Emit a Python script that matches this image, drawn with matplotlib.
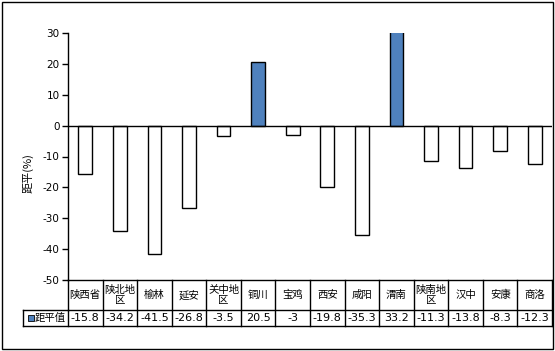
import matplotlib.pyplot as plt
import matplotlib.transforms as mtransforms
from matplotlib.patches import Rectangle

plt.rcParams['font.family'] = ['Noto Sans CJK SC', 'DejaVu Sans']

categories = ['陕西省', '陕北地\n区', '榆林', '延安', '关中地\n区', '铜川', '宝鸡',
              '西安', '咸阳', '渭南', '陕南地\n区', '汉中', '安康', '商洛']
values = [-15.8, -34.2, -41.5, -26.8, -3.5, 20.5, -3, -19.8, -35.3, 33.2,
          -11.3, -13.8, -8.3, -12.3]
value_labels = ['-15.8', '-34.2', '-41.5', '-26.8', '-3.5', '20.5', '-3',
                '-19.8', '-35.3', '33.2', '-11.3', '-13.8', '-8.3', '-12.3']
series_name = '距平值'
yticks = [-50, -40, -30, -20, -10, 0, 10, 20, 30]

W, H = 555, 351
fig = plt.figure(figsize=(W / 100, H / 100), dpi=100)
ax = fig.add_axes([68 / W, (H - 280) / H, 484 / W, 247 / H])

blue = '#4F81BD'
x = list(range(len(categories)))
colors = [blue if v > 0 else 'white' for v in values]
ax.bar(x, values, width=0.4, color=colors, edgecolor='black', linewidth=1.0)

ax.set_xlim(-0.5, len(categories) - 0.5)
ax.set_ylim(-50, 30)
ax.set_yticks(yticks)
ax.set_yticklabels([str(t) for t in yticks], fontsize=7.5, family='DejaVu Sans')
ax.tick_params(axis='y', direction='out', length=4, width=1, pad=2)
ax.set_xticks([])
for s in ['top', 'right', 'bottom']:
    ax.spines[s].set_visible(False)
ax.spines['left'].set_linewidth(1.0)
ax.axhline(0, color='black', linewidth=1.0)
ax.set_ylabel('距平(%)', fontsize=8)
ax.yaxis.set_label_coords(-34 / 484, 107 / 247)

# data table under the axes
tr = mtransforms.blended_transform_factory(ax.transData, ax.transAxes)
r1 = -30 / 247
r2 = -46 / 247
lw = 1.0
n = len(categories)
for i in range(n + 1):
    ax.plot([i - 0.5, i - 0.5], [0, r2], color='black', lw=lw, transform=tr, clip_on=False)
ax.plot([-0.5, n - 0.5], [0, 0], color='black', lw=lw, transform=tr, clip_on=False)
ax.plot([-0.5, n - 0.5], [r1, r1], color='black', lw=lw, transform=tr, clip_on=False)
lx = -45 / 484
ax.plot([lx, 0], [r1, r1], color='black', lw=lw, transform=ax.transAxes, clip_on=False)
ax.plot([lx, 1], [r2, r2], color='black', lw=lw, transform=ax.transAxes, clip_on=False)
ax.plot([lx, lx], [r1, r2], color='black', lw=lw, transform=ax.transAxes, clip_on=False)

for i, (c, v) in enumerate(zip(categories, value_labels)):
    ax.text(i, r1 / 2, c, ha='center', va='center', fontsize=7.5,
            linespacing=1.1, transform=tr)
    ax.text(i, (r1 + r2) / 2, v, ha='center', va='center', fontsize=8,
            transform=tr, family='DejaVu Sans')

# legend key in the table
ax.add_patch(Rectangle((lx + 5 / 484, (r1 + r2) / 2 - 3 / 247), 6 / 484, 6 / 247,
                       facecolor=blue, edgecolor='black', lw=0.6,
                       transform=ax.transAxes, clip_on=False))
ax.text(lx + 12 / 484, (r1 + r2) / 2, series_name, ha='left', va='center',
        fontsize=7.5, transform=ax.transAxes)

# outer chart border
fig.patches.append(Rectangle((1.5 / W, 2 / H), 551.5 / W, 347 / H, fill=False,
                             edgecolor='black', lw=1.0, transform=fig.transFigure))

fig.savefig('out.png', dpi=100)
